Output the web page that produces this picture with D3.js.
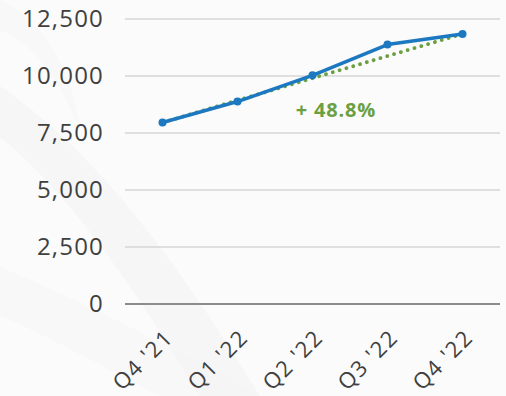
<!DOCTYPE html>
<html>
<head>
<meta charset="utf-8">
<script src="https://cdn.jsdelivr.net/npm/d3@7"></script>
<style>
  html, body { margin: 0; padding: 0; background: #fbfbfb; }
  svg { display: block; font-family: "Open Sans", "Noto Sans", sans-serif; }
</style>
</head>
<body>
<svg id="chart" width="506" height="396"></svg>
<script>
// Quarterly values
const quarters = ["Q4 '21", "Q1 '22", "Q2 '22", "Q3 '22", "Q4 '22"];
const values = [7960, 8880, 10030, 11380, 11845];
const yTicks = [0, 2500, 5000, 7500, 10000, 12500];
const growthLabel = "+ 48.8%";

const svg = d3.select("#chart");
const W = 506, H = 396;
const margin = { left: 125, right: 6, top: 19, bottom: 92 };

// soft background streaks
const bg = svg.append("g");
bg.append("rect").attr("width", W).attr("height", H).attr("fill", "#fbfbfb");
[
  { d: "M-40,60 C60,120 140,200 260,396 L200,396 C100,230 30,150 -40,110 Z", o: 0.4 },
  { d: "M-40,250 C60,290 160,340 260,396 L160,396 C90,360 20,320 -40,300 Z", o: 0.3 },
  { d: "M0,0 C40,20 70,60 80,130 C60,80 30,40 0,30 Z", o: 0.3 }
].forEach(s => bg.append("path").attr("d", s.d).attr("fill", "#f1f1f1").attr("opacity", s.o));

const x = d3.scaleBand().domain(quarters).range([margin.left, W - margin.right]);
const y = d3.scaleLinear().domain([0, 12500]).range([H - margin.bottom, margin.top]);
const cx = q => x(q) + x.bandwidth() / 2;

// gridlines
svg.append("g").selectAll("line").data(yTicks.filter(t => t > 0)).join("line")
  .attr("x1", margin.left).attr("x2", W - margin.right)
  .attr("y1", d => y(d)).attr("y2", d => y(d))
  .attr("stroke", "#d6d6d6").attr("stroke-width", 1.5);

// baseline
svg.append("line")
  .attr("x1", margin.left).attr("x2", W - margin.right)
  .attr("y1", y(0)).attr("y2", y(0))
  .attr("stroke", "#8c8c8c").attr("stroke-width", 2);

// y axis labels
const yAxis = d3.axisLeft(y).tickValues(yTicks).tickFormat(d3.format(",")).tickSize(0).tickPadding(21);
const yg = svg.append("g").attr("transform", `translate(${margin.left},0)`).call(yAxis);
yg.select(".domain").remove();
yg.selectAll("text")
  .attr("fill", "#404040").attr("font-size", 24).attr("letter-spacing", 1.2)
  .attr("font-family", "\"Open Sans\", sans-serif");

// x axis labels
const xAxis = d3.axisBottom(x).tickSize(0).tickPadding(0);
const xg = svg.append("g").attr("transform", `translate(0,${y(0)})`).call(xAxis);
xg.select(".domain").remove();
xg.selectAll("text")
  .attr("fill", "#404040").attr("font-size", 22).attr("letter-spacing", 1.5)
  .attr("font-family", "\"Open Sans\", sans-serif")
  .attr("text-anchor", "end").attr("dy", 0)
  .attr("transform", "translate(12,35) rotate(-45)");

// dotted trend from first to last quarter
const first = 0, last = values.length - 1;
svg.append("line")
  .attr("x1", cx(quarters[first])).attr("y1", y(values[first]))
  .attr("x2", cx(quarters[last])).attr("y2", y(values[last]))
  .attr("stroke", "#6aa042").attr("stroke-width", 3.8)
  .attr("stroke-linecap", "round").attr("stroke-dasharray", "0.1 7");

// series line
const line = d3.line().x((d, i) => cx(quarters[i])).y(d => y(d));
svg.append("path").datum(values)
  .attr("d", line).attr("fill", "none")
  .attr("stroke", "#1c78c0").attr("stroke-width", 3.5).attr("stroke-linejoin", "round");

svg.append("g").selectAll("circle").data(values).join("circle")
  .attr("cx", (d, i) => cx(quarters[i])).attr("cy", d => y(d))
  .attr("r", 4).attr("fill", "#1c78c0");

// growth label
svg.append("text")
  .attr("x", 336).attr("y", 117)
  .attr("text-anchor", "middle")
  .attr("font-size", 20).attr("font-weight", "bold").attr("letter-spacing", 0.8)
  .attr("fill", "#6aa042")
  .text(growthLabel);
</script>
</body>
</html>
